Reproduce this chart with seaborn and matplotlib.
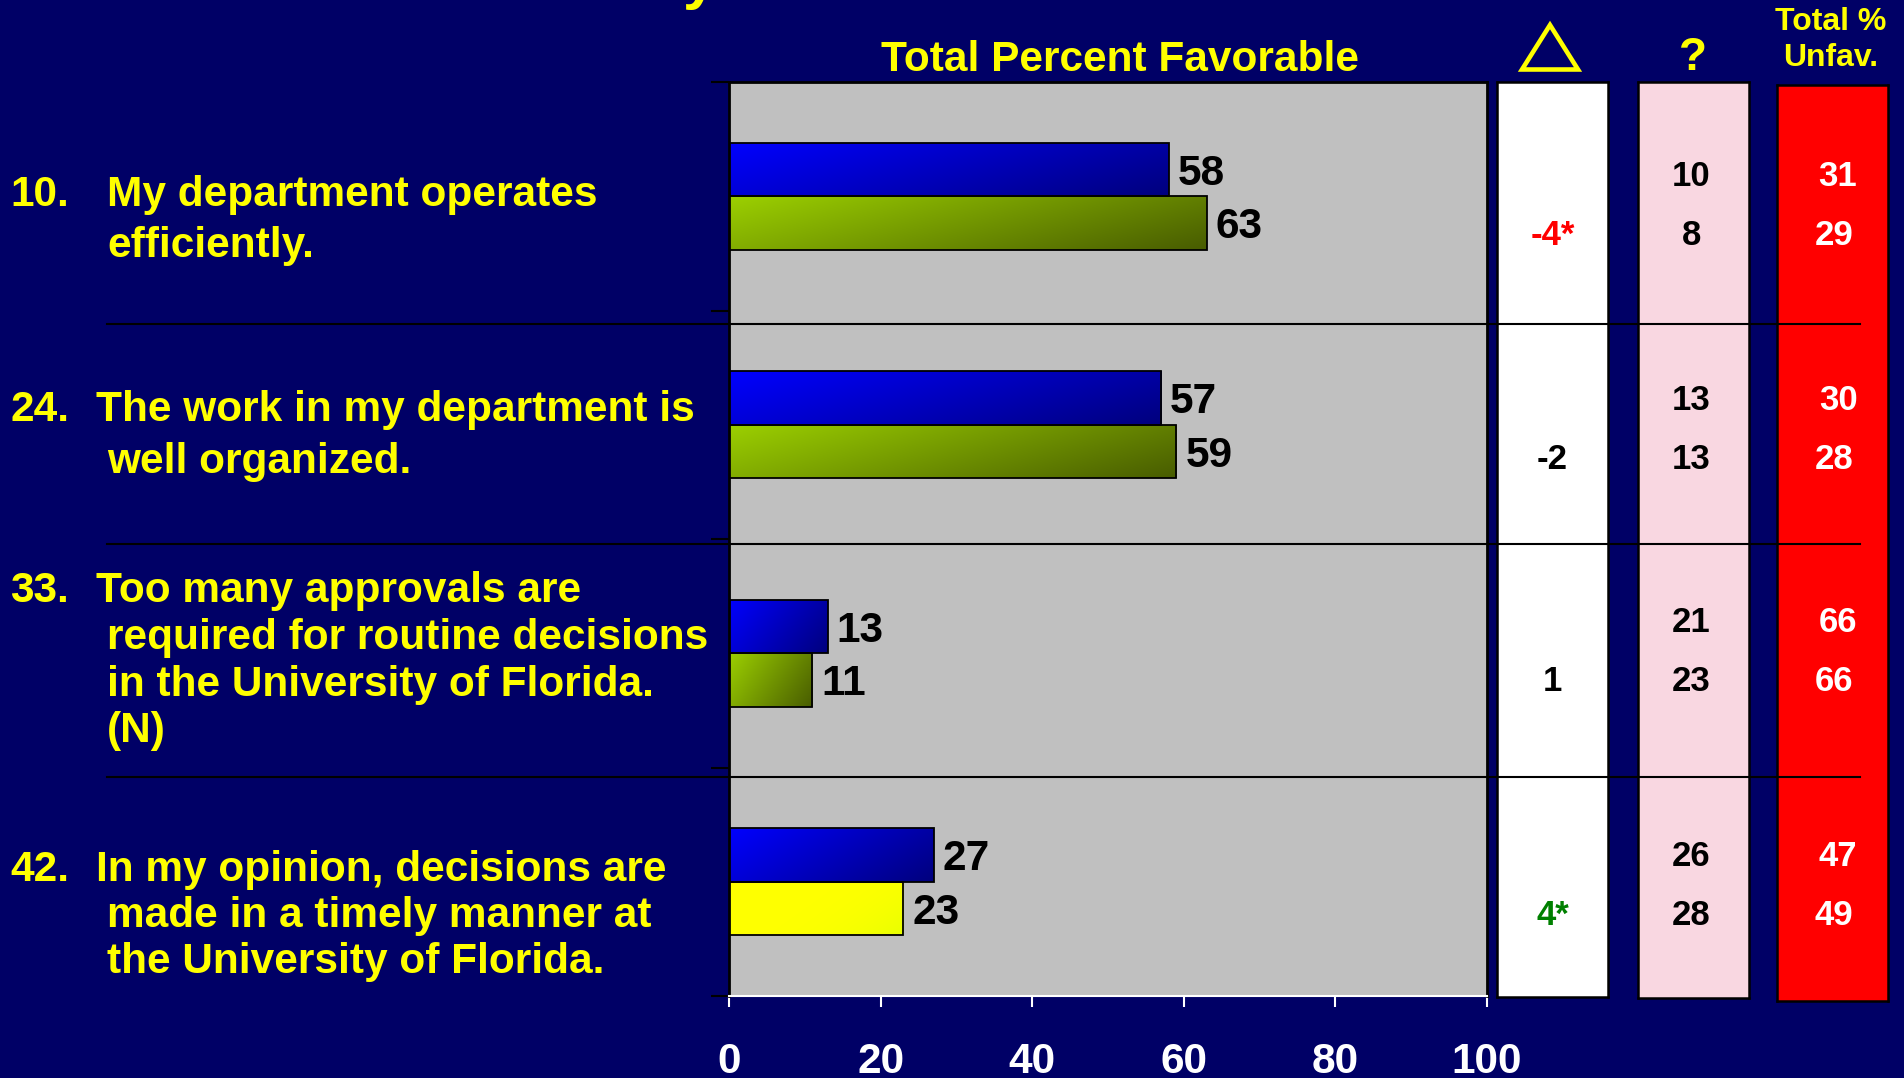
import numpy as np
import pandas as pd
import matplotlib
matplotlib.use("Agg")
import matplotlib.pyplot as plt
from matplotlib.lines import Line2D
from matplotlib.patches import Polygon
from matplotlib.transforms import offset_copy
import seaborn as sns

# ---- data -------------------------------------------------------------
question_ids = ["10.", "24.", "33.", "42."]
question_lines = [
    ["My department operates", "efficiently."],
    ["The work in my department is", "well organized."],
    ["Too many approvals are", "required for routine decisions",
     "in the University of Florida.", "(N)"],
    ["In my opinion, decisions are", "made in a timely manner at",
     "the University of Florida."],
]
survey_names = ["first", "second"]
fav_first = [58, 57, 13, 27]
fav_second = [63, 59, 11, 23]
change_labels = ["-4*", "-2", "1", "4*"]
change_colors = ["#FF0000", "black", "black", "#008000"]
unsure_first = [10, 13, 21, 26]
unsure_second = [8, 13, 23, 28]
unfav_first = [31, 30, 66, 47]
unfav_second = [29, 28, 66, 49]
x_ticks = [0, 20, 40, 60, 80, 100]

# ---- layout helpers (pixel based) -------------------------------------
W, H = 1904, 1078
DPI = 100
NAVY = "#000066"
YELLOW = "#FFFF00"
CAP_MID = 0.358  # half the cap height of Liberation Sans, in em

plt.rcParams["font.family"] = ["Liberation Sans", "DejaVu Sans"]

fig = plt.figure(figsize=(W / DPI, H / DPI), dpi=DPI, facecolor=NAVY)


def fx(px):
    return px / W


def fy(py):
    return 1 - py / H


def axes_px(left, top, right, bottom):
    return fig.add_axes([left / W, 1 - bottom / H, (right - left) / W, (bottom - top) / H])


def fig_label(x_px, ymid_px, s, fs, **kw):
    """Place text so that the middle of its capitals sits at ymid_px."""
    base = ymid_px + CAP_MID * fs * DPI / 72
    return fig.text(fx(x_px), fy(base), s, va="baseline", fontsize=fs,
                    fontweight="bold", **kw)


def ax_label(axis, x, y, s, fs, **kw):
    tr = offset_copy(axis.transData, fig=fig, y=-CAP_MID * fs, units="points")
    return axis.text(x, y, s, transform=tr, va="baseline", fontsize=fs,
                     fontweight="bold", **kw)


# ---- main bar panel ---------------------------------------------------
ax = axes_px(729, 82, 1487, 996)
ax.set_facecolor("#C0C0C0")

df = pd.DataFrame({
    "question": question_ids * 2,
    "survey": [survey_names[0]] * 4 + [survey_names[1]] * 4,
    "value": fav_first + fav_second,
})
sns.barplot(data=df, x="value", y="question", hue="survey", orient="h",
            width=0.47, palette=["#0000FF", "#99CC00"], saturation=1,
            edgecolor="black", linewidth=1.3, legend=False, ax=ax)


def add_gradient(axis, patch, c0, c1, power=1.0):
    x0, y0 = patch.get_x(), patch.get_y()
    w, h = patch.get_width(), patch.get_height()
    u = np.linspace(0, 1, 256)[None, :]
    v = np.linspace(0, 1, 64)[:, None]
    t = np.clip(0.7 * u + 0.3 * v, 0, 1) ** power
    t = t[..., None]
    c0 = np.array(c0, float)[None, None, :] / 255
    c1 = np.array(c1, float)[None, None, :] / 255
    img = c0 * (1 - t) + c1 * t
    im = axis.imshow(img, extent=(x0, x0 + w, y0 + h, y0), aspect="auto",
                     origin="upper", interpolation="bilinear",
                     zorder=patch.get_zorder() - 0.1)
    im.set_clip_path(patch)
    patch.set_facecolor("none")


grad_blue = ((0, 0, 255), (0, 0, 125))
grad_green = ((156, 208, 0), (72, 92, 0))
grad_yellow = ((255, 255, 0), (232, 255, 0))

for k, cont in enumerate(ax.containers):
    for i, bar in enumerate(cont):
        power = 1.0
        if k == 0:
            c0, c1 = grad_blue
        elif i == 3:
            c0, c1 = grad_yellow
            power = 4.0
        else:
            c0, c1 = grad_green
        add_gradient(ax, bar, c0, c1, power)
        bar.set_zorder(3)
        val = bar.get_width()
        yc = bar.get_y() + bar.get_height() / 2
        ax_label(ax, val + 1.2, yc, f"{val:g}", 30.5, ha="left",
                 color="black", zorder=4)

ax.set_xlim(0, 100)
ax.set_ylim(3.5, -0.5)
ax.set_xlabel("")
ax.set_ylabel("")
ax.set_xticks(x_ticks)
ax.set_xticklabels([str(t) for t in x_ticks])
ax.tick_params(axis="x", colors="white", length=8, width=1.5,
               labelsize=30.5, pad=25, direction="out")
for lbl in ax.get_xticklabels():
    lbl.set_fontweight("bold")
ax.set_yticks([-0.5, 0.5, 1.5, 2.5, 3.5])
ax.set_yticklabels([])
ax.tick_params(axis="y", colors="black", length=13, width=1.5, direction="out")
ax.spines["bottom"].set_color("white")
ax.spines["bottom"].set_linewidth(1.5)
for side in ("left", "top", "right"):
    ax.spines[side].set_color("black")
    ax.spines[side].set_linewidth(2)

# ---- side columns -----------------------------------------------------
HALF = 0.129                      # half gap between the two numbers of a row
row_shift = [0.03, 0.007, -0.022, 0.0]


def column_axes(left, top, right, bottom, face):
    c = axes_px(left, top, right, bottom)
    c.set_facecolor(face)
    c.set_xlim(0, 1)
    c.set_ylim(3.5, -0.5)
    c.set_xticks([])
    c.set_yticks([])
    for s in c.spines.values():
        s.set_color("black")
        s.set_linewidth(1.8)
    return c


col_change = column_axes(1497, 82, 1608, 997, "white")
col_unsure = column_axes(1638, 82, 1749, 998, "#F9D7E1")
col_unfav = column_axes(1777, 85, 1888, 1001, "#FF0000")

NUM_FS = 25
for i in range(4):
    top_y = i - HALF + row_shift[i]
    bot_y = i + HALF + row_shift[i]
    ax_label(col_change, 0.5, bot_y, change_labels[i], NUM_FS, ha="center",
             color=change_colors[i])
    ax_label(col_unsure, 0.48, top_y, str(unsure_first[i]), NUM_FS, ha="center",
             color="black")
    ax_label(col_unsure, 0.48, bot_y, str(unsure_second[i]), NUM_FS, ha="center",
             color="black")
    ax_label(col_unfav, 0.55, top_y - 0.013, str(unfav_first[i]), NUM_FS,
             ha="center", color="white")
    ax_label(col_unfav, 0.515, bot_y - 0.013, str(unfav_second[i]), NUM_FS,
             ha="center", color="white")

# ---- headers ----------------------------------------------------------
fig.text(fx(700), 1 + 3 / H, "y", ha="center", va="baseline",
         fontsize=44, fontweight="bold", color=YELLOW)
fig_label(1120, 55.5, "Total Percent Favorable", 30.5, ha="center", color=YELLOW)
fig.add_artist(Polygon([(fx(1522), fy(69.5)), (fx(1578), fy(69.5)), (fx(1550), fy(25))],
                       closed=True, fill=False, edgecolor=YELLOW, lw=3.3,
                       joinstyle="miter", transform=fig.transFigure))
fig_label(1693, 53.5, "?", 33, ha="center", color=YELLOW)
fig_label(1831, 19, "Total %", 23, ha="center", color=YELLOW)
fig_label(1831, 55, "Unfav.", 23, ha="center", color=YELLOW)

# ---- question labels --------------------------------------------------
first_line_y = [191, 406, 587, 866]
line_step = [51, 52, 46.7, 45.7]
first_line_x = [107, 96, 96, 96]
LAB_FS = 30.5
for i in range(4):
    fig_label(10, first_line_y[i], question_ids[i], LAB_FS, ha="left", color=YELLOW)
    for j, line in enumerate(question_lines[i]):
        x = first_line_x[i] if j == 0 else 107
        fig_label(x, first_line_y[i] + j * line_step[i], line, LAB_FS,
                  ha="left", color=YELLOW)

# ---- row separators ---------------------------------------------------
for ysep in (324, 544, 777):
    fig.add_artist(Line2D([fx(107), fx(1860)], [fy(ysep), fy(ysep)],
                          color="black", lw=1.5, zorder=5))

fig.savefig("out.png", dpi=DPI, facecolor=NAVY)
